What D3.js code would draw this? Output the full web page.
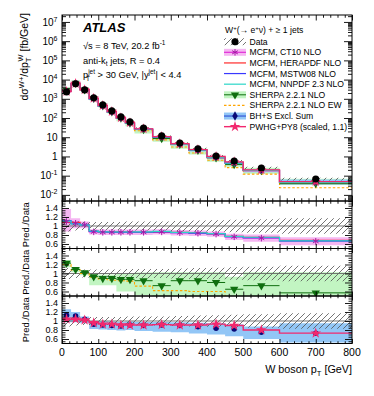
<!DOCTYPE html>
<html><head><meta charset="utf-8">
<script src="https://cdn.jsdelivr.net/npm/d3@7"></script>
<style>
body{margin:0;background:#fff}
svg text{font-family:"Liberation Sans",Arial,Helvetica,sans-serif;fill:#000}
</style></head><body>
<svg id="c" width="374" height="396"></svg>
<script>
// ---------------- DATA ----------------
const binEdges = [0,25,50,75,100,125,150,175,200,250,300,350,400,450,500,600,800];
const dataXsec = [2290,6000,2900,1120,480,235,114,63,30,11.7,5.0,2.5,1.06,0.58,0.25,0.067];
const dataRelUnc = [0.12,0.10,0.09,0.09,0.09,0.09,0.09,0.10,0.10,0.10,0.11,0.12,0.13,0.14,0.15,0.17];
// ratios Pred./Data
const mcfmCT10   = [1.10,1.06,1.03,0.87,0.86,0.86,0.86,0.86,0.86,0.87,0.85,0.84,0.82,0.76,0.73,0.66];
const mcfmCT10Lo = [0.88,0.95,0.95,0.81,0.80,0.80,0.80,0.80,0.80,0.81,0.79,0.78,0.76,0.69,0.65,0.57];
const mcfmCT10Hi = [1.38,1.17,1.10,0.93,0.92,0.92,0.92,0.92,0.92,0.93,0.91,0.90,0.88,0.83,0.81,0.75];
const mcfmHERA   = [1.08,1.08,1.02,0.88,0.87,0.87,0.87,0.87,0.86,0.87,0.86,0.85,0.83,0.77,0.75,0.68];
const mcfmMSTW   = [1.12,1.05,1.02,0.88,0.87,0.86,0.86,0.86,0.86,0.87,0.85,0.84,0.83,0.76,0.74,0.67];
const mcfmNNPDF  = [1.11,1.04,1.02,0.89,0.87,0.87,0.87,0.87,0.87,0.88,0.86,0.85,0.83,0.77,0.75,0.67];
const sherpaNLO  = [1.23,1.09,1.02,0.93,0.89,0.89,0.87,0.87,0.84,0.73,0.84,0.84,0.80,0.65,0.73,0.57];
const sherpaLo   = [1.14,1.03,0.96,0.74,0.74,0.74,0.60,0.60,0.52,0.50,0.50,0.50,0.50,0.50,0.50,0.50];
const sherpaHi   = [1.30,1.14,1.07,0.98,0.98,0.98,1.00,1.00,1.02,1.03,1.03,1.03,1.03,0.93,1.03,1.03];
const sherpaEW   = [1.20,1.08,1.00,0.92,0.88,0.85,0.84,0.83,0.72,0.62,0.62,0.60,0.60,0.45,0.48,0.35];
const bhsExcl    = [1.13,1.11,1.04,0.93,0.91,0.90,0.89,0.91,0.90,0.91,0.90,0.87,0.84,0.82,0.75,0.73];
const bhsLo      = [0.97,0.97,0.95,0.82,0.81,0.80,0.79,0.80,0.78,0.76,0.75,0.72,0.70,0.66,0.60,0.52];
const bhsHi      = [1.26,1.20,1.10,1.00,1.00,0.99,0.98,0.99,0.98,0.98,0.97,0.96,0.95,0.93,0.88,0.95];
const pwhgPy8    = [1.04,1.04,1.02,0.96,0.93,0.93,0.91,0.91,0.91,0.92,0.91,0.91,0.93,0.90,0.80,0.73];
const xTickVals  = [0,100,200,300,400,500,600,700,800];
const yDecades   = [-2,-1,0,1,2,3,4,5,6,7];
const ratioTickVals = [0.6,0.8,1,1.2,1.4];

// ---------------- LAYOUT ----------------
const L = 62, R = 352;
const mainTop = 15, mainBot = 201, pH = 47.5;
const pTops = [201, 248.5, 296];
const C = {ct10Band:'#f5b6f2', ct10:'#e030d8', ct10M:'#a818a8', hera:'#ff2a2a', mstw:'#3838ff',
  nnpdf:'#2ad6c8', shBand:'#c2f5c2', sh:'#0f6f0f', ew:'#ffa500', bhsBand:'#92c6f6', bhsM:'#0a0a78',
  bhsL:'#2040d0', pwhg:'#f2286e'};

const svg = d3.select('#c');
const defs = svg.append('defs');
const pat = defs.append('pattern').attr('id','hatch').attr('patternUnits','userSpaceOnUse')
  .attr('width',6).attr('height',6);
pat.append('path').attr('d','M-1.5,1.5 L1.5,-1.5 M0,6 L6,0 M4.5,7.5 L7.5,4.5')
  .attr('stroke','#505050').attr('stroke-width',0.8);

const x = d3.scaleLinear().domain([0,800]).range([L,R]);
const yMain = d3.scaleLog().domain([4.8e-3, 2.3e7]).range([mainBot, mainTop]);
const yR = pTops.map(t => d3.scaleLinear().domain([0.5,1.5555]).range([t+pH, t]));

function clip(id, top, bot){
  defs.append('clipPath').attr('id',id).append('rect').attr('x',L).attr('y',top).attr('width',R-L).attr('height',bot-top);
}
clip('cm', mainTop, mainBot);
pTops.forEach((t,i)=>clip('cp'+i, t, t+pH));

const pts = v => binEdges.map((e,i)=>[e, v[Math.min(i, v.length-1)]]);
const pts2 = (lo,hi) => binEdges.map((e,i)=>{const k=Math.min(i,lo.length-1);return [e,lo[k],hi[k]];});
const centers = binEdges.slice(0,-1).map((e,i)=>(e+binEdges[i+1])/2);
const mul = (r) => r.map((v,i)=>v*dataXsec[i]);

function stepLine(g, ys, vals, color, w, dash){
  g.append('path').attr('d', d3.line().x(d=>x(d[0])).y(d=>ys(d[1])).curve(d3.curveStepAfter)(pts(vals)))
   .attr('fill','none').attr('stroke',color).attr('stroke-width',w||1.2).attr('stroke-dasharray',dash||null);
}
function band(g, ys, lo, hi, fill){
  g.append('path').attr('d', d3.area().x(d=>x(d[0])).y0(d=>ys(d[1])).y1(d=>ys(d[2])).curve(d3.curveStepAfter)(pts2(lo,hi)))
   .attr('fill',fill).attr('stroke','none');
}
function xSegs(g, ys, vals, color){
  vals.forEach((v,i)=>g.append('line').attr('x1',x(binEdges[i])).attr('x2',x(binEdges[i+1]))
    .attr('y1',ys(v)).attr('y2',ys(v)).attr('stroke',color).attr('stroke-width',1));
}
function markers(g, ys, vals, type, color, size, rot){
  const sym = d3.symbol().type(type).size(size);
  vals.forEach((v,i)=>{
    const p = g.append('path').attr('d', sym())
      .attr('transform',`translate(${x(centers[i])},${ys(v)})${rot?' rotate(180)':''}`);
    if (type===d3.symbolAsterisk) p.attr('fill','none').attr('stroke',color).attr('stroke-width',1);
    else p.attr('fill',color);
  });
}

// ---------------- MAIN PANEL ----------------
const gm = svg.append('g').attr('clip-path','url(#cm)');
band(gm, yMain, mul(sherpaLo), mul(sherpaHi), C.shBand);
band(gm, yMain, mul(bhsLo), mul(bhsHi), C.bhsBand);
band(gm, yMain, mul(mcfmCT10Lo), mul(mcfmCT10Hi), C.ct10Band);
band(gm, yMain, dataXsec.map((v,i)=>v*(1-dataRelUnc[i])), dataXsec.map((v,i)=>v*(1+dataRelUnc[i])), 'url(#hatch)');
stepLine(gm, yMain, mul(sherpaEW), C.ew, 1.1, '2.5,2');
xSegs(gm, yMain, mul(sherpaNLO), C.sh);
stepLine(gm, yMain, mul(mcfmCT10), C.ct10, 1.2);
stepLine(gm, yMain, mul(mcfmHERA), C.hera, 1.1);
stepLine(gm, yMain, mul(mcfmMSTW), C.mstw, 1.1);
stepLine(gm, yMain, mul(mcfmNNPDF), C.nnpdf, 1.2);
stepLine(gm, yMain, mul(pwhgPy8), C.pwhg, 1.4);
markers(gm, yMain, mul(sherpaNLO), d3.symbolTriangle, C.sh, 28, true);
markers(gm, yMain, mul(mcfmCT10), d3.symbolAsterisk, C.ct10M, 30);
markers(gm, yMain, mul(bhsExcl), d3.symbolCircle, C.bhsM, 22);
markers(gm, yMain, mul(pwhgPy8), d3.symbolStar, C.pwhg, 34);
dataXsec.forEach((v,i)=>{
  gm.append('line').attr('x1',x(centers[i])).attr('x2',x(centers[i]))
    .attr('y1',yMain(v*(1-dataRelUnc[i]))).attr('y2',yMain(v*(1+dataRelUnc[i]))).attr('stroke','#000');
});
markers(gm, yMain, dataXsec, d3.symbolCircle, '#000', 40);

// ---------------- RATIO PANELS ----------------
function hatch1(g, ys){
  band(g, ys, dataRelUnc.map(u=>1-u), dataRelUnc.map(u=>1+u), 'url(#hatch)');
  g.append('line').attr('x1',L).attr('x2',R).attr('y1',ys(1)).attr('y2',ys(1)).attr('stroke','#666').attr('stroke-width',0.9);
}
// panel 1: MCFM
{
  const g = svg.append('g').attr('clip-path','url(#cp0)'), ys = yR[0];
  band(g, ys, mcfmCT10Lo, mcfmCT10Hi, C.ct10Band);
  hatch1(g, ys);
  stepLine(g, ys, mcfmCT10, C.ct10, 1.2);
  stepLine(g, ys, mcfmHERA, C.hera, 1.1);
  stepLine(g, ys, mcfmMSTW, C.mstw, 1.1);
  stepLine(g, ys, mcfmNNPDF, C.nnpdf, 1.2);
  markers(g, ys, mcfmCT10, d3.symbolAsterisk, C.ct10M, 30);
}
// panel 2: SHERPA
{
  const g = svg.append('g').attr('clip-path','url(#cp1)'), ys = yR[1];
  band(g, ys, sherpaLo, sherpaHi, C.shBand);
  hatch1(g, ys);
  stepLine(g, ys, sherpaEW, C.ew, 1.1, '2.5,2');
  xSegs(g, ys, sherpaNLO, C.sh);
  markers(g, ys, sherpaNLO, d3.symbolTriangle, C.sh, 30, true);
}
// panel 3: BH+S, PWHG
{
  const g = svg.append('g').attr('clip-path','url(#cp2)'), ys = yR[2];
  band(g, ys, bhsLo, bhsHi, C.bhsBand);
  hatch1(g, ys);
  markers(g, ys, bhsExcl, d3.symbolCircle, C.bhsM, 24);
  stepLine(g, ys, pwhgPy8, C.pwhg, 1.4);
  markers(g, ys, pwhgPy8, d3.symbolStar, C.pwhg, 36);
}

// ---------------- AXES ----------------
function axis(gen, scale, vals, size, tr){
  const g = svg.append('g').attr('transform',tr)
    .call(gen(scale).tickValues(vals).tickSize(size).tickFormat(''));
  g.select('.domain').remove();
  g.selectAll('line').attr('stroke','#000').attr('stroke-width',0.9);
}
const xMinor = d3.range(0,801,20).filter(v=>v%100!==0);
[[mainTop,'top'],[mainBot,'bot']].concat(pTops.map(t=>[t,'top'])).concat(pTops.map(t=>[t+pH,'bot'])).forEach(([yy,side])=>{
  const gen = side==='top' ? d3.axisTop : d3.axisBottom;
  const big = (yy===mainTop||yy===mainBot) ? 5.5 : 4.5;
  axis(gen, x, xTickVals, -big, `translate(0,${yy})`);
  axis(gen, x, xMinor, -big/2, `translate(0,${yy})`);
});
const yMinor = [];
for (let k=-3;k<=7;k++) for (let m=2;m<=9;m++){const v=m*Math.pow(10,k); if(v>=4.8e-3&&v<=2.3e7) yMinor.push(v);}
const yMaj = yDecades.map(k=>Math.pow(10,k));
axis(d3.axisLeft, yMain, yMaj, -8, `translate(${L},0)`);
axis(d3.axisLeft, yMain, yMinor, -4, `translate(${L},0)`);
axis(d3.axisRight, yMain, yMaj, -8, `translate(${R},0)`);
axis(d3.axisRight, yMain, yMinor, -4, `translate(${R},0)`);
const rMinor = d3.range(0.55,1.56,0.05).map(v=>+v.toFixed(2)).filter(v=>Math.abs(v*5-Math.round(v*5))>1e-6);
const rMaj = [0.6,0.8,1.0,1.2,1.4];
yR.forEach(ys=>{
  axis(d3.axisLeft, ys, rMaj, -7, `translate(${L},0)`);
  axis(d3.axisLeft, ys, rMinor, -3.5, `translate(${L},0)`);
  axis(d3.axisRight, ys, rMaj, -7, `translate(${R},0)`);
  axis(d3.axisRight, ys, rMinor, -3.5, `translate(${R},0)`);
});
[[mainTop,mainBot]].concat(pTops.map(t=>[t,t+pH])).forEach(([a,b])=>{
  svg.append('rect').attr('x',L).attr('y',a).attr('width',R-L).attr('height',b-a)
    .attr('fill','none').attr('stroke','#000').attr('stroke-width',1);
});

// tick labels
yDecades.forEach(k=>{
  const t = svg.append('text').attr('x',57.5).attr('y',yMain(Math.pow(10,k))+3.6)
    .attr('text-anchor','end').style('font-size','10px');
  if (k===0) t.text('1');
  else if (k===1) t.text('10');
  else { t.append('tspan').text('10'); t.append('tspan').attr('dy',-4).style('font-size','7px').text(k); }
});
yR.forEach(ys=>{
  ratioTickVals.forEach(v=>{
    svg.append('text').attr('x',58).attr('y',ys(v)+3.2).attr('text-anchor','end')
      .style('font-size','9px').text(d3.format('')(v));
  });
});
xTickVals.forEach(v=>{
  svg.append('text').attr('x',x(v)).attr('y',356).attr('text-anchor','middle').style('font-size','10.5px').text(v);
});
{
  const t = svg.append('text').attr('transform','translate(28,13) rotate(-90)').attr('text-anchor','end').style('font-size','10.5px');
  t.append('tspan').text('dσ');
  t.append('tspan').attr('dy',-4).style('font-size','7.5px').text('W+');
  t.append('tspan').attr('dy',4).text('/dp');
  t.append('tspan').attr('dy',3).style('font-size','7.5px').text('T');
  t.append('tspan').attr('dx',-4).attr('dy',-8).style('font-size','7.5px').text('W');
  t.append('tspan').attr('dy',5).text(' [fb/GeV]');
}
pTops.forEach(tp=>{
  svg.append('text').attr('transform',`translate(29,${tp+pH/2}) rotate(-90)`).attr('text-anchor','middle')
    .style('font-size','9.4px').text('Pred./Data');
});
{
  const t = svg.append('text').attr('x',352).attr('y',373).attr('text-anchor','end').style('font-size','10.8px');
  t.append('tspan').text('W boson p');
  t.append('tspan').attr('dy',3).style('font-size','7.5px').text('T');
  t.append('tspan').attr('dy',-3).text(' [GeV]');
}
svg.append('text').attr('x',83).attr('y',32).style('font-size','13px').style('font-weight','bold').style('font-style','italic').text('ATLAS');
{
  const t = svg.append('text').attr('x',83).attr('y',48.5).style('font-size','9.3px');
  t.append('tspan').text('√s = 8 TeV, 20.2 fb');
  t.append('tspan').attr('dy',-3.5).style('font-size','6.5px').text('-1');
}
{
  const t = svg.append('text').attr('x',83).attr('y',63.5).style('font-size','9.3px');
  t.append('tspan').text('anti-k');
  t.append('tspan').attr('dy',2.5).style('font-size','6.5px').text('t');
  t.append('tspan').attr('dy',-2.5).text(' jets, R = 0.4');
}
{
  const t = svg.append('text').attr('x',83).attr('y',78).style('font-size','9.3px');
  t.append('tspan').text('p');
  t.append('tspan').attr('dy',-4).style('font-size','6.5px').text('jet');
  t.append('tspan').attr('dx',-9).attr('dy',6.5).style('font-size','6.5px').text('T');
  t.append('tspan').attr('dx',5).attr('dy',-2.5).text(' > 30 GeV, |y');
  t.append('tspan').attr('dy',-4).style('font-size','6.5px').text('jet');
  t.append('tspan').attr('dy',4).text('| < 4.4');
}

// ---------------- LEGEND ----------------
const lg = svg.append('g');
{
  const t = lg.append('text').attr('x',225).attr('y',32.5).style('font-size','8.6px');
  t.append('tspan').text('W');
  t.append('tspan').attr('dy',-3).style('font-size','6px').text('+');
  t.append('tspan').attr('dy',3).text('(→ e');
  t.append('tspan').attr('dy',-3).style('font-size','6px').text('+');
  t.append('tspan').attr('dy',3).text('ν) + ≥ 1 jets');
}
const legendEntries = ['Data','MCFM, CT10 NLO','MCFM, HERAPDF NLO','MCFM, MSTW08 NLO','MCFM, NNPDF 2.3 NLO',
  'SHERPA 2.2.1 NLO','SHERPA 2.2.1 NLO EW','BH+S Excl. Sum','PWHG+PY8 (scaled, 1.1)'];
const lx0 = 224, lx1 = 246, lxc = 235;
legendEntries.forEach((lab,i)=>{
  const yy = 41.7 + i*10.62;
  lg.append('text').attr('x',249.5).attr('y',yy+3).style('font-size','8.6px').text(lab);
  const box = fill => lg.append('rect').attr('x',lx0).attr('y',yy-3.5).attr('width',lx1-lx0).attr('height',7).attr('fill',fill);
  const ln = (c,w,d) => lg.append('line').attr('x1',lx0).attr('x2',lx1).attr('y1',yy).attr('y2',yy).attr('stroke',c).attr('stroke-width',w).attr('stroke-dasharray',d||null);
  const mk = (type,c,s,rot) => { const p = lg.append('path').attr('d',d3.symbol().type(type).size(s)())
      .attr('transform',`translate(${lxc},${yy})${rot?' rotate(180)':''}`);
      if (type===d3.symbolAsterisk) p.attr('fill','none').attr('stroke',c); else p.attr('fill',c); };
  if (i===0){ box('url(#hatch)'); lg.append('line').attr('x1',lxc).attr('x2',lxc).attr('y1',yy-3.5).attr('y2',yy+3.5).attr('stroke','#000'); mk(d3.symbolCircle,'#000',40); }
  if (i===1){ box(C.ct10Band); ln(C.ct10,1.2); mk(d3.symbolAsterisk,C.ct10M,30); }
  if (i===2){ ln(C.hera,1.2); }
  if (i===3){ ln(C.mstw,1.2); }
  if (i===4){ ln(C.nnpdf,1.2); }
  if (i===5){ box(C.shBand); ln(C.sh,1); mk(d3.symbolTriangle,C.sh,30,true); }
  if (i===6){ ln(C.ew,1.1,'2.5,2'); }
  if (i===7){ box(C.bhsBand); ln(C.bhsL,1); mk(d3.symbolDiamond,C.bhsM,26); }
  if (i===8){ ln(C.pwhg,1.4); mk(d3.symbolStar,C.pwhg,36); }
});
</script>
</body></html>
